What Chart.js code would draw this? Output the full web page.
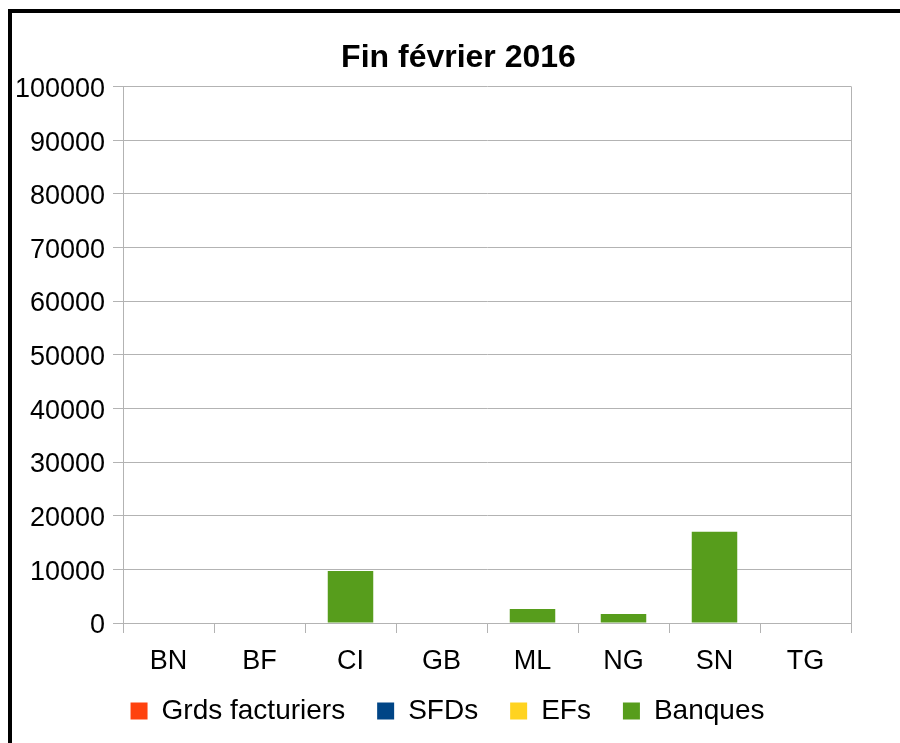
<!DOCTYPE html>
<html>
<head>
<meta charset="utf-8">
<script src="https://cdn.jsdelivr.net/npm/chart.js@4"></script>
<style>
    html, body { margin: 0; padding: 0; background: #fff; }
    #wrap { position: relative; width: 900px; height: 743px; overflow: hidden; }
    #frame {
        position: absolute; left: 8px; top: 9px; width: 1000px; height: 1000px;
        border-left: 4px solid #000; border-top: 4px solid #000; pointer-events: none;
    }
    canvas { position: absolute; left: 0; top: 0; }
</style>
</head>
<body>
<div id="wrap">
    <canvas id="chart" width="900" height="743"></canvas>
    <div id="frame"></div>
</div>
<script>
const categories = ['BN', 'BF', 'CI', 'GB', 'ML', 'NG', 'SN', 'TG'];
const grdsFacturiers = [0, 0, 0, 0, 0, 0, 0, 0];
const sfds = [0, 0, 0, 0, 0, 0, 0, 0];
const efs = [0, 0, 0, 0, 0, 0, 0, 0];
const banques = [0, 0, 9700, 0, 2600, 1700, 17000, 0];
const yMin = 0;
const yMax = 100000;
const yStep = 10000;

const FONT = "'Liberation Sans', Arial, sans-serif";
const GRID = '#b3b3b3';

// plot frame on the right side, like the original
const rightBorder = {
    id: 'rightBorder',
    afterDraw(chart) {
        const { ctx, chartArea } = chart;
        ctx.save();
        ctx.strokeStyle = GRID;
        ctx.lineWidth = 1;
        ctx.beginPath();
        ctx.moveTo(chartArea.right + 0.5, chartArea.top);
        ctx.lineTo(chartArea.right + 0.5, chartArea.bottom);
        ctx.stroke();
        ctx.restore();
    }
};

// the original centres title and legend a bit right of the plot's centre,
// and keeps the legend close under the axis labels
const nudgeBoxes = {
    id: 'nudgeBoxes',
    beforeLayout(chart) {
        const lg = chart.legend;
        if (lg && !lg._fitWrapped) {
            const fit = lg.fit;
            lg.fit = function () { fit.call(this); this.height = 67; };
            lg._fitWrapped = true;
        }
    },
    afterLayout(chart) {
        const lg = chart.legend;
        if (lg) {
            const h = lg.bottom - lg.top;
            lg.top = chart.chartArea.bottom + 42;
            lg.bottom = lg.top + h;
            lg.left += 22;
            lg.right += 22;
        }
        const tb = chart.titleBlock;
        if (tb) {
            tb.left += 33;
            tb.right += 33;
        }
    }
};

function makeSet(label, data, color) {
    return {
        label: label,
        data: data,
        backgroundColor: color,
        borderWidth: 0,
        categoryPercentage: 0.5,
        barPercentage: 1
    };
}

new Chart(document.getElementById('chart'), {
    type: 'bar',
    data: {
        labels: categories,
        datasets: [
            makeSet('Grds facturiers', grdsFacturiers, '#ff420e'),
            makeSet('SFDs', sfds, '#004586'),
            makeSet('EFs', efs, '#ffd320'),
            makeSet('Banques', banques, '#579d1c')
        ]
    },
    options: {
        responsive: false,
        animation: false,
        layout: { padding: { left: 0, right: 49, top: 0, bottom: 0 } },
        scales: {
            x: {
                stacked: true,
                grid: { color: GRID, drawOnChartArea: false, tickLength: 10, offset: true },
                border: { color: GRID },
                ticks: { color: '#000', font: { family: FONT, size: 27 }, padding: 12, maxRotation: 0 },
                afterFit(scale) { scale.height = 53; }
            },
            y: {
                stacked: true,
                min: yMin,
                max: yMax,
                grid: { color: GRID, tickLength: 10 },
                border: { color: GRID },
                ticks: {
                    stepSize: yStep,
                    color: '#000',
                    font: { family: FONT, size: 27 },
                    padding: 8,
                    labelOffset: 3,
                    callback: v => String(v)
                },
                afterFit(scale) { scale.width = 123; }
            }
        },
        plugins: {
            title: {
                display: true,
                text: 'Fin février 2016',
                color: '#000',
                font: { family: FONT, size: 32, weight: 'bold' },
                padding: { top: 39, bottom: 9 }
            },
            legend: {
                position: 'bottom',
                labels: {
                    color: '#000',
                    font: { family: FONT, size: 28 },
                    boxWidth: 17,
                    boxHeight: 17,
                    padding: 32
                }
            },
            tooltip: { enabled: false }
        }
    },
    plugins: [rightBorder, nudgeBoxes]
});
</script>
</body>
</html>
